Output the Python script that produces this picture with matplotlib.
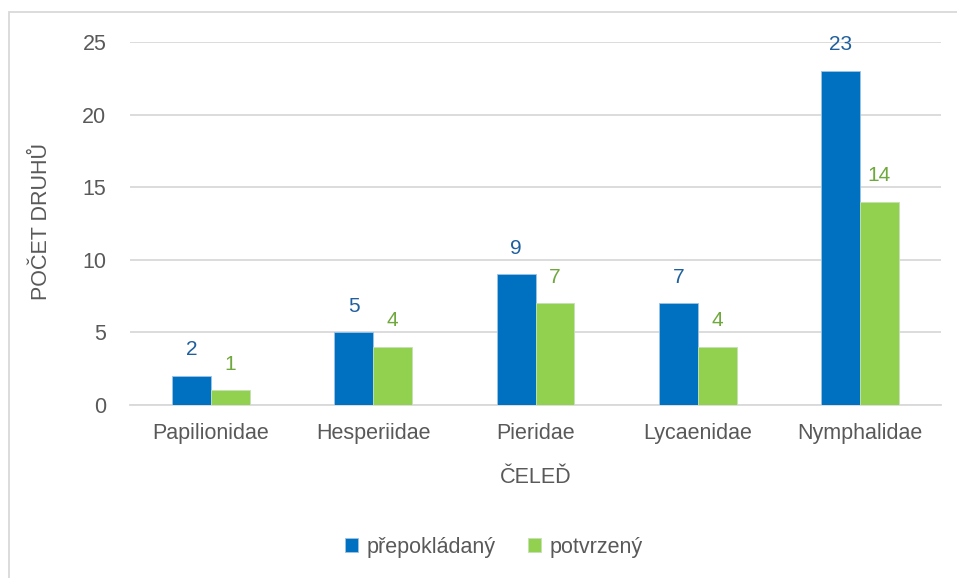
import matplotlib.pyplot as plt
import numpy as np
from matplotlib.patches import Rectangle

plt.rcParams['font.family'] = ['Liberation Sans', 'DejaVu Sans']

celedi = ['Papilionidae', 'Hesperiidae', 'Pieridae', 'Lycaenidae', 'Nymphalidae']
prepokladany = [2, 5, 9, 7, 23]
potvrzeny = [1, 4, 7, 4, 14]

modra = '#0070C0'
zelena = '#92D050'
sede = '#595959'

fig = plt.figure(figsize=(9.57, 5.78), dpi=100)
ax = fig.add_axes([130 / 957, 1 - 405 / 578, 811 / 957, 363 / 578])

x = np.arange(len(celedi))
w = 0.24
b1 = ax.bar(x - w / 2, prepokladany, w, color=modra, edgecolor='#9DC3E6', linewidth=0.6,
            label='přepokládaný', zorder=3)
b2 = ax.bar(x + w / 2, potvrzeny, w, color=zelena, edgecolor='#C5E0B4', linewidth=0.6,
            label='potvrzený', zorder=3)

for rect, v in zip(b1, prepokladany):
    ax.annotate(str(v), (rect.get_x() + rect.get_width() / 2, v), xytext=(0, 12),
                textcoords='offset points', ha='center', va='bottom', fontsize=15,
                color='#1F5F9E')
for rect, v in zip(b2, potvrzeny):
    ax.annotate(str(v), (rect.get_x() + rect.get_width() / 2, v), xytext=(0, 12),
                textcoords='offset points', ha='center', va='bottom', fontsize=15,
                color='#6FA83C')

ax.set_xlim(-0.5, len(celedi) - 0.5)
ax.set_ylim(0, 25)
ax.set_yticks(range(0, 26, 5))
ax.set_xticks(x)
ax.set_xticklabels(celedi)
ax.tick_params(axis='both', length=0, labelsize=15.5, colors=sede)
ax.tick_params(axis='x', pad=13)
ax.tick_params(axis='y', pad=17)
ax.grid(axis='y', color='#D9D9D9', linewidth=1.3, zorder=0)
for s in ['top', 'right', 'left']:
    ax.spines[s].set_visible(False)
ax.spines['bottom'].set_color('#D9D9D9')
ax.spines['bottom'].set_linewidth(1.3)

ax.set_xlabel('ČELEĎ', fontsize=15.5, color=sede)
ax.xaxis.set_label_coords(0.5, -(467 - 405) / 363)
ax.set_ylabel('POČET DRUHŮ', fontsize=15.5, color=sede, va='center')
ax.yaxis.set_label_coords(-(130 - 42) / 811, 0.5 + (225 - 223) / 363)

fig.legend(loc='center', bbox_to_anchor=(494 / 957, 1 - 547 / 578), ncol=2, frameon=False,
           fontsize=15.5, labelcolor=sede, handlelength=0.62, handleheight=0.62,
           columnspacing=1.5, handletextpad=0.4)

fig.patches.append(Rectangle((9 / 957, -0.1), 1.2, 1 - 12 / 578 + 0.1,
                             transform=fig.transFigure, fill=False,
                             edgecolor='#D9D9D9', linewidth=1.3, clip_on=False))

plt.savefig('out.png', dpi=100)
